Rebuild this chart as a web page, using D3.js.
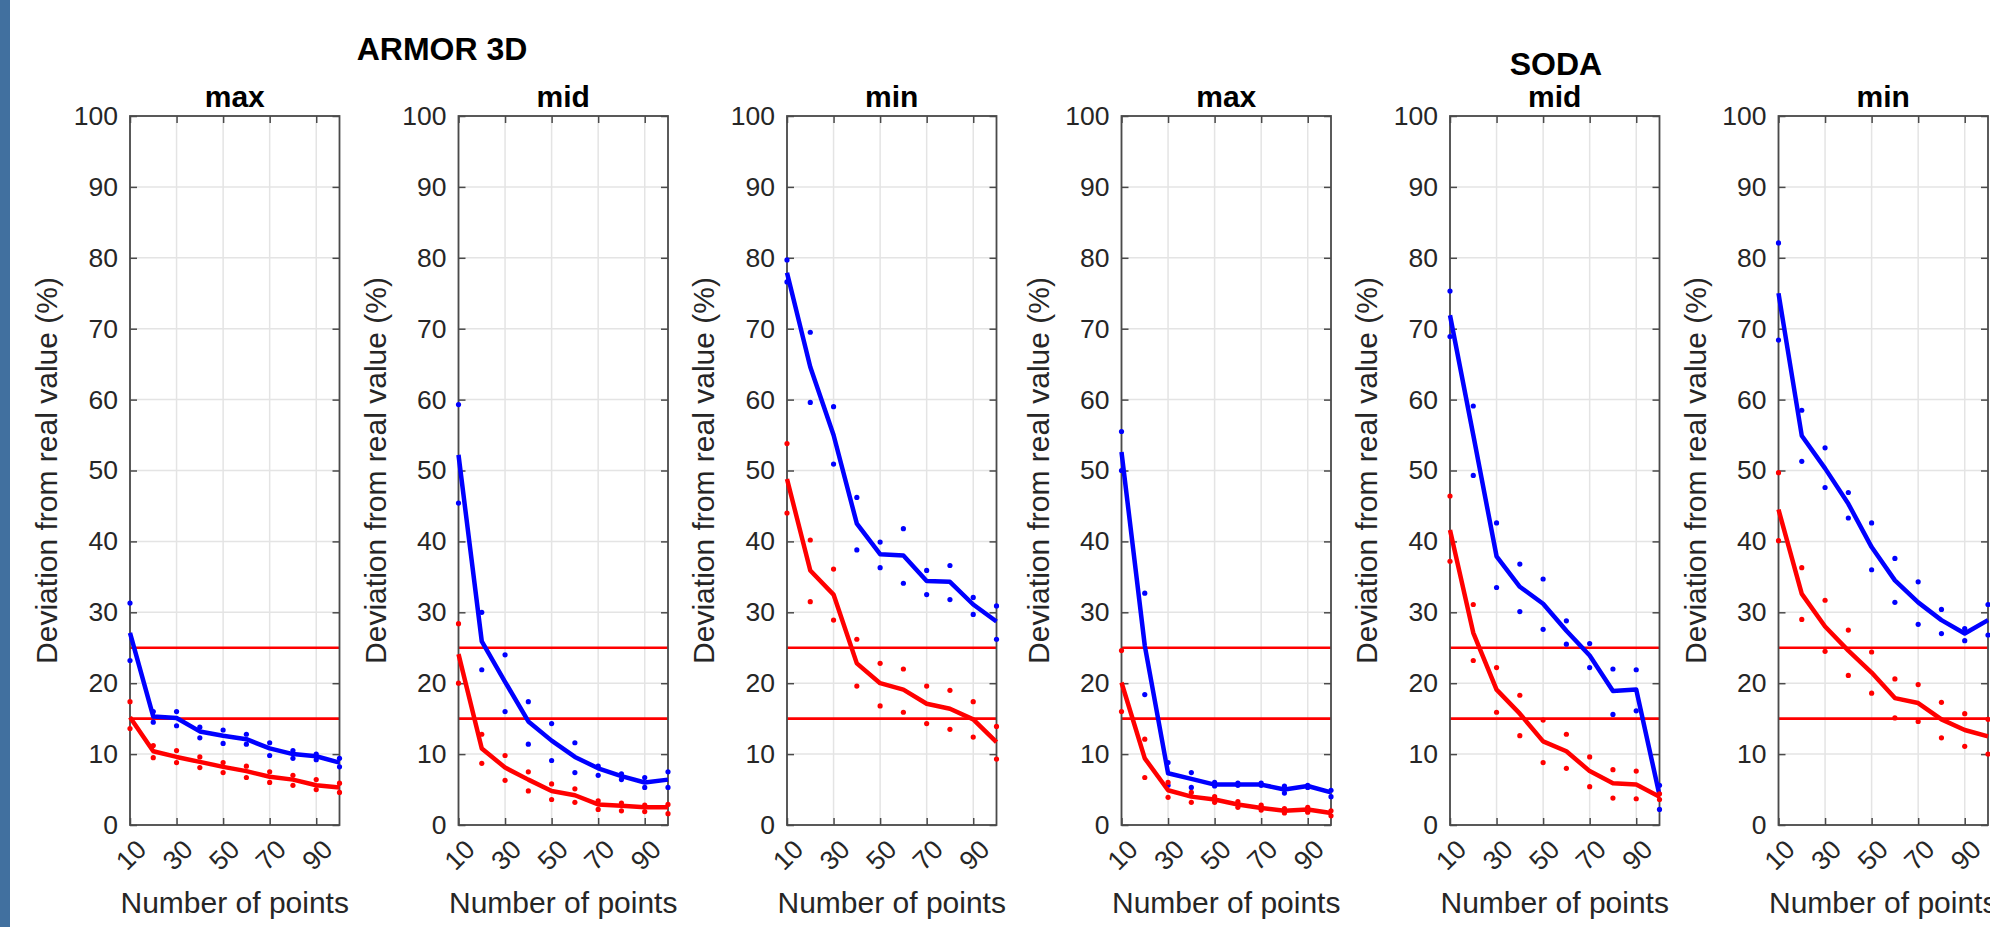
<!DOCTYPE html>
<html><head><meta charset="utf-8">
<script src="https://cdn.jsdelivr.net/npm/d3@7"></script>
<style>
body{margin:0;background:#fff;overflow:hidden}
svg text{font-family:"Liberation Sans",Arial,Helvetica,sans-serif}
</style></head><body>
<svg id="chart" width="1990" height="927"></svg>
<script>
const xValues = [10,20,30,40,50,60,70,80,90,100];
const xTicks = [10,30,50,70,90];
const yTicks = [0,10,20,30,40,50,60,70,80,90,100];
const thresholds = [15,25];
const groupTitles = ["ARMOR 3D","SODA"];
const panelTitles = ["max","mid","min"];
const xLabel = "Number of points";
const yLabel = "Deviation from real value (%)";

// ARMOR 3D - max
const armorMaxBlue   = [27.1,15.3,15.1,13.2,12.6,12.1,10.8,10.0,9.7,8.8];
const armorMaxBlueHi = [31.3,16.0,16.0,13.8,13.4,12.8,11.6,10.5,10.0,9.4];
const armorMaxBlueLo = [23.2,14.5,14.0,12.3,11.5,11.4,9.8,9.4,9.2,8.2];
const armorMaxRed    = [15.2,10.4,9.6,8.9,8.2,7.6,6.8,6.4,5.6,5.3];
const armorMaxRedHi  = [17.4,11.2,10.5,9.6,8.8,8.3,7.5,7.0,6.4,5.9];
const armorMaxRedLo  = [13.6,9.5,8.8,8.1,7.4,6.7,6.0,5.6,5.0,4.6];
// ARMOR 3D - mid
const armorMidBlue   = [52.2,25.9,20.2,14.6,11.9,9.6,8.0,6.9,6.0,6.4];
const armorMidBlueHi = [59.3,30.0,24.0,17.4,14.3,11.6,8.3,7.2,6.7,7.5];
const armorMidBlueLo = [45.4,21.9,16.0,11.4,9.1,7.4,7.0,6.4,5.3,5.3];
const armorMidRed    = [24.1,10.8,8.1,6.4,4.8,4.2,2.9,2.7,2.5,2.5];
const armorMidRedHi  = [28.4,12.8,9.8,7.5,5.8,5.1,3.4,3.1,2.8,2.9];
const armorMidRedLo  = [20.0,8.7,6.3,4.8,3.6,3.2,2.2,2.0,1.9,1.6];
// ARMOR 3D - min
const armorMinBlue   = [77.9,64.6,55.0,42.5,38.2,38.0,34.4,34.3,31.1,28.7];
const armorMinBlueHi = [79.7,69.5,59.0,46.2,39.9,41.8,35.9,36.6,32.1,30.9];
const armorMinBlueLo = [76.6,59.6,50.9,38.8,36.3,34.1,32.5,31.8,29.7,26.2];
const armorMinRed    = [48.8,35.9,32.5,22.8,20.0,19.1,17.1,16.4,14.9,11.7];
const armorMinRedHi  = [53.8,40.2,36.1,26.2,22.8,22.0,19.6,19.0,17.4,13.9];
const armorMinRedLo  = [44.0,31.5,28.9,19.6,16.8,15.9,14.3,13.5,12.4,9.3];
// SODA - max
const sodaMaxBlue    = [52.6,25.3,7.3,6.5,5.7,5.7,5.7,5.0,5.5,4.6];
const sodaMaxBlueHi  = [55.5,32.7,8.8,7.4,6.0,5.9,5.9,5.5,5.6,4.9];
const sodaMaxBlueLo  = [50.0,18.4,5.6,5.3,5.5,5.6,5.6,4.5,5.3,4.0];
const sodaMaxRed     = [20.1,9.4,4.9,4.0,3.6,2.9,2.4,2.0,2.2,1.7];
const sodaMaxRedHi   = [24.6,12.1,6.0,4.6,4.0,3.3,2.8,2.3,2.5,2.0];
const sodaMaxRedLo   = [16.0,6.7,3.9,3.2,3.2,2.5,2.1,1.7,1.8,1.3];
// SODA - mid
const sodaMidBlue    = [71.9,55.0,37.9,33.6,31.2,27.4,23.9,18.9,19.1,4.2];
const sodaMidBlueHi  = [75.3,59.1,42.6,36.8,34.7,28.8,25.6,22.0,21.9,5.6];
const sodaMidBlueLo  = [68.9,49.3,33.5,30.1,27.6,25.5,22.2,15.6,16.1,2.2];
const sodaMidRed     = [41.6,27.1,19.1,15.7,11.8,10.4,7.6,5.9,5.7,4.0];
const sodaMidRedHi   = [46.4,31.1,22.2,18.3,14.8,12.8,9.6,7.8,7.6,4.4];
const sodaMidRedLo   = [37.2,23.2,15.9,12.6,8.8,8.0,5.4,3.8,3.7,3.6];
// SODA - min
const sodaMinBlue    = [75.0,54.9,50.3,45.3,39.2,34.5,31.4,28.9,27.0,28.9];
const sodaMinBlueHi  = [82.1,58.5,53.2,46.9,42.6,37.6,34.3,30.4,27.7,31.1];
const sodaMinBlueLo  = [68.4,51.3,47.6,43.3,36.0,31.4,28.3,27.0,26.0,26.8];
const sodaMinRed     = [44.5,32.6,28.0,24.6,21.5,17.9,17.2,14.9,13.4,12.5];
const sodaMinRedHi   = [49.7,36.3,31.7,27.5,24.4,20.6,19.8,17.3,15.7,14.9];
const sodaMinRedLo   = [40.1,29.0,24.5,21.1,18.6,15.1,14.6,12.3,11.1,10.0];

const panels = [
  {title:panelTitles[0], blue:armorMaxBlue, blueHi:armorMaxBlueHi, blueLo:armorMaxBlueLo, red:armorMaxRed, redHi:armorMaxRedHi, redLo:armorMaxRedLo},
  {title:panelTitles[1], blue:armorMidBlue, blueHi:armorMidBlueHi, blueLo:armorMidBlueLo, red:armorMidRed, redHi:armorMidRedHi, redLo:armorMidRedLo},
  {title:panelTitles[2], blue:armorMinBlue, blueHi:armorMinBlueHi, blueLo:armorMinBlueLo, red:armorMinRed, redHi:armorMinRedHi, redLo:armorMinRedLo},
  {title:panelTitles[0], blue:sodaMaxBlue, blueHi:sodaMaxBlueHi, blueLo:sodaMaxBlueLo, red:sodaMaxRed, redHi:sodaMaxRedHi, redLo:sodaMaxRedLo},
  {title:panelTitles[1], blue:sodaMidBlue, blueHi:sodaMidBlueHi, blueLo:sodaMidBlueLo, red:sodaMidRed, redHi:sodaMidRedHi, redLo:sodaMidRedLo},
  {title:panelTitles[2], blue:sodaMinBlue, blueHi:sodaMinBlueHi, blueLo:sodaMinBlueLo, red:sodaMinRed, redHi:sodaMinRedHi, redLo:sodaMinRedLo}
];

const svg = d3.select("#chart");
svg.append("rect").attr("x",0).attr("y",0).attr("width",10).attr("height",927).attr("fill","#41709f");

const panelLefts = [130, 458.5, 787, 1121.5, 1450, 1778.5];
const pw = 209.5, plotTop = 116, plotBottom = 825;
const axisColor = "#4a4a4a", textColor = "#262626", gridColor = "#e4e4e4";

svg.append("text").attr("x",442).attr("y",60).attr("text-anchor","middle")
  .attr("font-size",32).attr("font-weight","bold").attr("fill","#000").text(groupTitles[0]);
svg.append("text").attr("x",1556).attr("y",75).attr("text-anchor","middle")
  .attr("font-size",32).attr("font-weight","bold").attr("fill","#000").text(groupTitles[1]);

panels.forEach((p,i)=>{
  const L = panelLefts[i];
  const x = d3.scaleLinear().domain([10,100]).range([L, L+pw]);
  const y = d3.scaleLinear().domain([0,100]).range([plotBottom, plotTop]);
  const g = svg.append("g");

  g.selectAll(".gy").data(yTicks).join("line")
    .attr("x1",L).attr("x2",L+pw).attr("y1",d=>y(d)).attr("y2",d=>y(d))
    .attr("stroke",gridColor).attr("stroke-width",1.5);
  g.selectAll(".gx").data(xTicks).join("line")
    .attr("x1",d=>x(d)).attr("x2",d=>x(d)).attr("y1",plotTop).attr("y2",plotBottom)
    .attr("stroke",gridColor).attr("stroke-width",1.5);

  g.selectAll(".th").data(thresholds).join("line")
    .attr("x1",L).attr("x2",L+pw).attr("y1",d=>y(d)).attr("y2",d=>y(d))
    .attr("stroke","#ff0000").attr("stroke-width",2.6);

  const yAxisL = d3.axisLeft(y).tickValues(yTicks).tickSizeInner(-7).tickSizeOuter(0).tickPadding(12);
  const yAxisR = d3.axisRight(y).tickValues(yTicks).tickSizeInner(-7).tickSizeOuter(0).tickFormat("");
  const xAxisB = d3.axisBottom(x).tickValues(xTicks).tickSizeInner(-7).tickSizeOuter(0).tickFormat("");
  const xAxisT = d3.axisTop(x).tickValues(xTicks).tickSizeInner(-7).tickSizeOuter(0).tickFormat("");

  const ga = g.append("g").attr("transform",`translate(${L},0)`).call(yAxisL);
  g.append("g").attr("transform",`translate(${L+pw},0)`).call(yAxisR);
  g.append("g").attr("transform",`translate(0,${plotBottom})`).call(xAxisB);
  g.append("g").attr("transform",`translate(0,${plotTop})`).call(xAxisT);
  g.selectAll(".domain").remove();
  g.selectAll(".tick line").attr("stroke",axisColor).attr("stroke-width",1.5);
  ga.selectAll("text").attr("font-size",26.5).attr("fill",textColor)
    .attr("font-family",'"Liberation Sans",Arial,sans-serif');

  g.selectAll(".xtl").data(xTicks).join("text")
    .attr("transform",d=>`translate(${x(d)+13},${plotBottom+21}) rotate(-45)`)
    .attr("text-anchor","end").attr("dominant-baseline","middle")
    .attr("font-size",26.5).attr("fill",textColor).text(d=>d);

  g.append("rect").attr("x",L).attr("y",plotTop).attr("width",pw).attr("height",plotBottom-plotTop)
    .attr("fill","none").attr("stroke",axisColor).attr("stroke-width",1.8);

  const line = d3.line().x((d,j)=>x(xValues[j])).y(d=>y(d));
  [["blue","#0000ff"],["red","#ff0000"]].forEach(([k,c])=>{
    g.append("path").datum(p[k]).attr("d",line).attr("fill","none")
      .attr("stroke",c).attr("stroke-width",4.5).attr("stroke-linejoin","round");
    const pts = p[k+"Hi"].map((v,j)=>[xValues[j],v]).concat(p[k+"Lo"].map((v,j)=>[xValues[j],v]));
    g.selectAll(".pt"+k).data(pts).join("circle")
      .attr("cx",d=>x(d[0])).attr("cy",d=>y(d[1])).attr("r",2.6).attr("fill",c);
  });

  g.append("text").attr("x",L+pw/2).attr("y",plotTop-9).attr("text-anchor","middle")
    .attr("font-size",30).attr("font-weight","bold").attr("fill","#000").text(p.title);
  g.append("text").attr("x",L+pw/2).attr("y",913).attr("text-anchor","middle")
    .attr("font-size",30).attr("fill",textColor).text(xLabel);
  g.append("text").attr("transform",`translate(${L-73},${(plotTop+plotBottom)/2}) rotate(-90)`)
    .attr("text-anchor","middle").attr("font-size",30).attr("fill",textColor).text(yLabel);
});
</script>
</body></html>
